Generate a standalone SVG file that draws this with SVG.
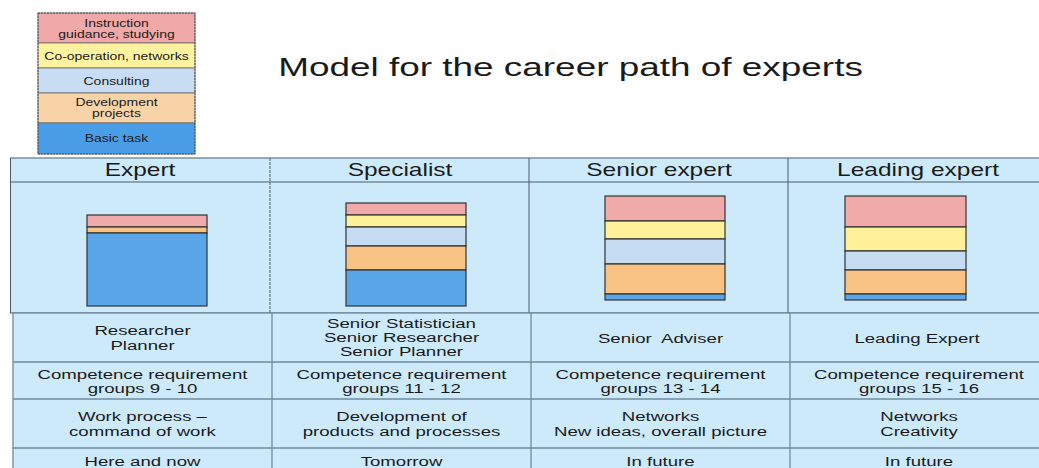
<svg xmlns="http://www.w3.org/2000/svg" width="1039" height="468" viewBox="0 0 1039 468">
<style>
text{font-family:"Liberation Sans",Arial,sans-serif;fill:#1a1a1a;text-anchor:middle}
.lg{font-size:10.5px}
.hd{font-size:17.5px}
.cell{font-size:13.5px}
.title{font-size:26px}
.tbl{fill:#cdeafb;stroke:#4d5d68;stroke-width:1}
.tbl2{fill:#cdeafb;stroke:#6f8a9c;stroke-width:1.3}
.ln{stroke:#4d5d68;stroke-width:1;fill:none}
.ln2{stroke:#6f8a9c;stroke-width:1.3;fill:none}
.seg{stroke:#333;stroke-width:1.2}
.pk{fill:#f0aaaa}.yl{fill:#fff09a}.lb{fill:#c6dcf2}.or{fill:#f8c284}.bl{fill:#58a6e8}
.lgs{stroke:#666;stroke-width:0.8}
</style>
<g id="legend">
<rect x="38" y="13" width="157" height="30" fill="#f0a8a8" class="lgs"/>
<rect x="38" y="43" width="157" height="25" fill="#fff3a0" class="lgs"/>
<rect x="38" y="68" width="157" height="25" fill="#c8ddf3" class="lgs"/>
<rect x="38" y="93" width="157" height="30" fill="#f9d3a8" class="lgs"/>
<rect x="38" y="123" width="157" height="31" fill="#4a9ee8" class="lgs"/>
<rect x="38" y="13" width="157" height="141" fill="none" stroke="#555" stroke-width="1" stroke-dasharray="2,1"/>
<text class="lg" transform="matrix(1.33 0 0 1 116.5 0)" x="0" y="27">Instruction</text>
<text class="lg" transform="matrix(1.33 0 0 1 116.5 0)" x="0" y="38">guidance, studying</text>
<text class="lg" transform="matrix(1.33 0 0 1 116.5 0)" x="0" y="60">Co-operation, networks</text>
<text class="lg" transform="matrix(1.33 0 0 1 116.5 0)" x="0" y="85">Consulting</text>
<text class="lg" transform="matrix(1.33 0 0 1 116.5 0)" x="0" y="106">Development</text>
<text class="lg" transform="matrix(1.33 0 0 1 116.5 0)" x="0" y="117">projects</text>
<text class="lg" transform="matrix(1.33 0 0 1 116.5 0)" x="0" y="142">Basic task</text>
</g>
<g id="title"><text class="title" transform="matrix(1.42 0 0 1 570.5 0)" x="0" y="76">Model for the career path of experts</text></g>
<g id="top-table">
<rect class="tbl" x="10.5" y="158" width="1040" height="155"/>
<line class="ln" x1="10.5" y1="182" x2="1039" y2="182"/>
<line class="ln" x1="270" y1="158" x2="270" y2="313" stroke-dasharray="3,1"/>
<line class="ln" x1="529" y1="158" x2="529" y2="313"/>
<line class="ln" x1="788" y1="158" x2="788" y2="313"/>
<text class="hd" transform="matrix(1.4 0 0 1 140 0)" x="0" y="176">Expert</text>
<text class="hd" transform="matrix(1.4 0 0 1 400 0)" x="0" y="176">Specialist</text>
<text class="hd" transform="matrix(1.4 0 0 1 659 0)" x="0" y="176">Senior expert</text>
<text class="hd" transform="matrix(1.4 0 0 1 918 0)" x="0" y="176">Leading expert</text>
</g>
<g id="bar-expert">
<rect class="seg pk" x="87" y="215" width="120" height="12"/>
<rect class="seg or" x="87" y="227" width="120" height="6"/>
<rect class="seg bl" x="87" y="233" width="120" height="73"/>
</g>
<g id="bar-specialist">
<rect class="seg pk" x="346" y="203" width="120" height="12"/>
<rect class="seg yl" x="346" y="215" width="120" height="12"/>
<rect class="seg lb" x="346" y="227" width="120" height="19"/>
<rect class="seg or" x="346" y="246" width="120" height="24"/>
<rect class="seg bl" x="346" y="270" width="120" height="36"/>
</g>
<g id="bar-senior">
<rect class="seg pk" x="605" y="196" width="120" height="25"/>
<rect class="seg yl" x="605" y="221" width="120" height="18"/>
<rect class="seg lb" x="605" y="239" width="120" height="25"/>
<rect class="seg or" x="605" y="264" width="120" height="30"/>
<rect class="seg bl" x="605" y="294" width="120" height="6"/>
</g>
<g id="bar-leading">
<rect class="seg pk" x="845" y="196" width="121" height="31"/>
<rect class="seg yl" x="845" y="227" width="121" height="24"/>
<rect class="seg lb" x="845" y="251" width="121" height="19"/>
<rect class="seg or" x="845" y="270" width="121" height="24"/>
<rect class="seg bl" x="845" y="294" width="121" height="6"/>
</g>
<g id="bottom-table">
<rect class="tbl2" x="13" y="313" width="1040" height="170"/>
<line class="ln2" x1="13" y1="362" x2="1039" y2="362"/>
<line class="ln2" x1="13" y1="399" x2="1039" y2="399"/>
<line class="ln2" x1="13" y1="448" x2="1039" y2="448"/>
<line class="ln2" x1="272" y1="313" x2="272" y2="468"/>
<line class="ln2" x1="531" y1="313" x2="531" y2="468"/>
<line class="ln2" x1="790" y1="313" x2="790" y2="468"/>
<text class="cell" transform="matrix(1.38 0 0 1 142.5 0)" x="0" y="335">Researcher</text>
<text class="cell" transform="matrix(1.38 0 0 1 142.5 0)" x="0" y="350">Planner</text>
<text class="cell" transform="matrix(1.38 0 0 1 401.5 0)" x="0" y="328">Senior Statistician</text>
<text class="cell" transform="matrix(1.38 0 0 1 401.5 0)" x="0" y="342">Senior Researcher</text>
<text class="cell" transform="matrix(1.38 0 0 1 401.5 0)" x="0" y="356">Senior Planner</text>
<text class="cell" transform="matrix(1.38 0 0 1 660.5 0)" x="0" y="343" xml:space="preserve">Senior  Adviser</text>
<text class="cell" transform="matrix(1.38 0 0 1 917 0)" x="0" y="343">Leading Expert</text>
<text class="cell" transform="matrix(1.38 0 0 1 142.5 0)" x="0" y="379">Competence requirement</text>
<text class="cell" transform="matrix(1.38 0 0 1 142.5 0)" x="0" y="393">groups 9 - 10</text>
<text class="cell" transform="matrix(1.38 0 0 1 401.5 0)" x="0" y="379">Competence requirement</text>
<text class="cell" transform="matrix(1.38 0 0 1 401.5 0)" x="0" y="393">groups 11 - 12</text>
<text class="cell" transform="matrix(1.38 0 0 1 660.5 0)" x="0" y="379">Competence requirement</text>
<text class="cell" transform="matrix(1.38 0 0 1 660.5 0)" x="0" y="393">groups 13 - 14</text>
<text class="cell" transform="matrix(1.38 0 0 1 919 0)" x="0" y="379">Competence requirement</text>
<text class="cell" transform="matrix(1.38 0 0 1 919 0)" x="0" y="393">groups 15 - 16</text>
<text class="cell" transform="matrix(1.38 0 0 1 142.5 0)" x="0" y="421">Work process –</text>
<text class="cell" transform="matrix(1.38 0 0 1 142.5 0)" x="0" y="436">command of work</text>
<text class="cell" transform="matrix(1.38 0 0 1 401.5 0)" x="0" y="421">Development of</text>
<text class="cell" transform="matrix(1.38 0 0 1 401.5 0)" x="0" y="436">products and processes</text>
<text class="cell" transform="matrix(1.38 0 0 1 660.5 0)" x="0" y="421">Networks</text>
<text class="cell" transform="matrix(1.38 0 0 1 660.5 0)" x="0" y="436">New ideas, overall picture</text>
<text class="cell" transform="matrix(1.38 0 0 1 919 0)" x="0" y="421">Networks</text>
<text class="cell" transform="matrix(1.38 0 0 1 919 0)" x="0" y="436">Creativity</text>
<text class="cell" transform="matrix(1.38 0 0 1 142.5 0)" x="0" y="466">Here and now</text>
<text class="cell" transform="matrix(1.38 0 0 1 401.5 0)" x="0" y="466">Tomorrow</text>
<text class="cell" transform="matrix(1.38 0 0 1 660.5 0)" x="0" y="466">In future</text>
<text class="cell" transform="matrix(1.38 0 0 1 919 0)" x="0" y="466">In future</text>
</g>
</svg>
